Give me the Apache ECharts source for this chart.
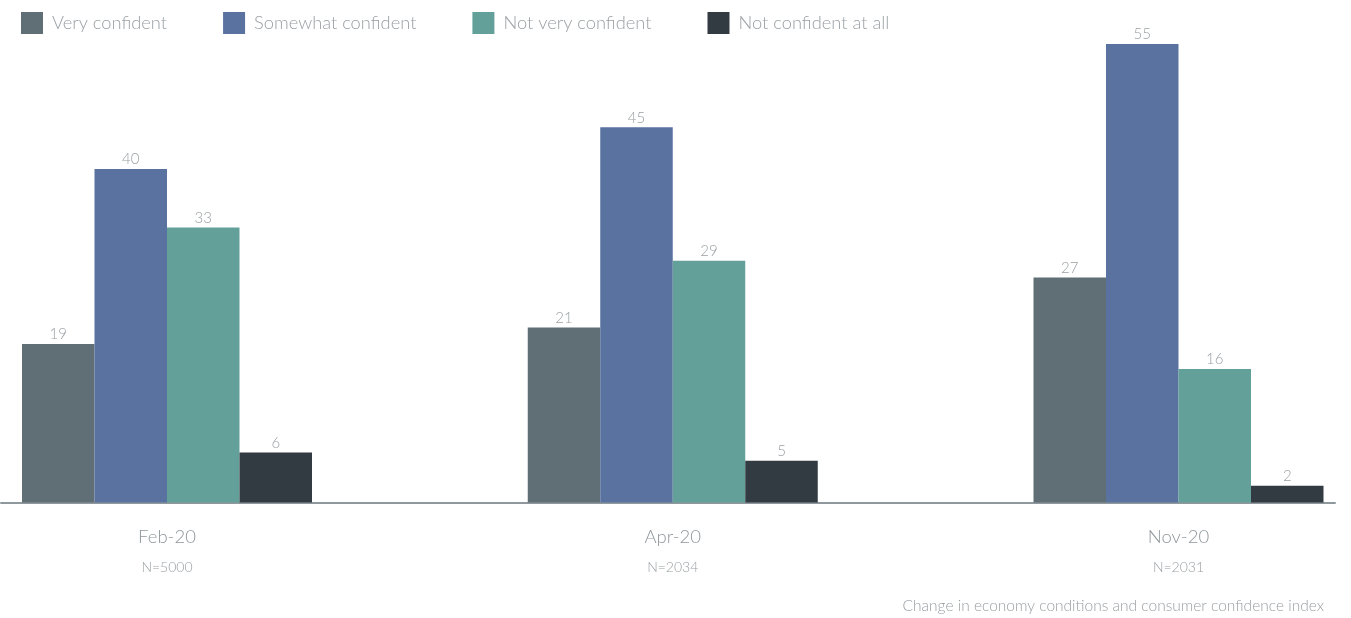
<!DOCTYPE html>
<html lang="en">
<head>
    <meta charset="utf-8">
    <title>Consumer confidence</title>
    <script src="https://cdn.jsdelivr.net/npm/echarts@6/dist/echarts.min.js"></script>
    <style>
        html, body { margin: 0; padding: 0; background: #fff; }
        #chart { width: 1351px; height: 618px; }
    </style>
</head>
<body>
    <div id="chart"></div>
    <script type="text/javascript">
        let periods = ['Feb-20', 'Apr-20', 'Nov-20'];
        let sampleSizes = ['N=5000', 'N=2034', 'N=2031'];
        let veryConfident = [19, 21, 27];
        let somewhatConfident = [40, 45, 55];
        let notVeryConfident = [33, 29, 16];
        let notConfidentAtAll = [6, 5, 2];

        let seriesNames = ['Very confident', 'Somewhat confident', 'Not very confident', 'Not confident at all'];
        let seriesColors = ['#606e75', '#5a729f', '#64a09a', '#333b42'];
        let seriesValues = [veryConfident, somewhatConfident, notVeryConfident, notConfidentAtAll];

        let labelGray = '#9aa0a4';
        let fontName = 'Lato, "Noto Sans", sans-serif';

        let Chart = echarts.init(document.getElementById('chart'));

        let series = seriesNames.map((name, i) => ({
            name: name,
            type: 'bar',
            xAxisIndex: 0,
            yAxisIndex: 0,
            barWidth: 72.5,
            barGap: '0%',
            clip: false,
            itemStyle: { color: seriesColors[i] },
            label: {
                show: true,
                position: 'top',
                distance: 2,
                color: labelGray,
                fontSize: 15,
                fontWeight: 300,
                fontFamily: fontName
            },
            data: seriesValues[i]
        }));

        let option = {
            animation: false,
            textStyle: { fontFamily: fontName },
            legend: {
                left: 16,
                top: 7,
                itemWidth: 22,
                itemHeight: 22,
                itemGap: 56,
                icon: 'rect',
                textStyle: {
                    color: labelGray,
                    fontSize: 18.3,
                    fontWeight: 300,
                    fontFamily: fontName,
                    padding: [0, 0, 0, 4]
                },
                data: seriesNames
            },
            title: {
                text: 'Change in economy conditions and consumer confidence index',
                right: 22,
                bottom: -1,
                textStyle: {
                    color: labelGray,
                    fontSize: 15.5,
                    fontWeight: 300,
                    fontFamily: fontName
                }
            },
            grid: [
                { left: 167, right: 172.5, top: 44, bottom: 115.5 },
                { left: 1, right: 16, top: 44, bottom: 115.5 }
            ],
            xAxis: [
                {
                    type: 'category',
                    gridIndex: 0,
                    boundaryGap: false,
                    data: periods,
                    axisLine: { show: false },
                    axisTick: { show: false },
                    axisLabel: {
                        margin: 20,
                        formatter: (v, idx) => '{a|' + v + '}\n{b|' + sampleSizes[idx] + '}',
                        rich: {
                            a: { color: '#8f979b', fontSize: 18.5, fontWeight: 300, fontFamily: fontName, lineHeight: 30 },
                            b: { color: labelGray, fontSize: 14, fontWeight: 300, fontFamily: fontName, lineHeight: 30 }
                        }
                    }
                },
                {
                    type: 'value',
                    gridIndex: 1,
                    min: 0,
                    max: 1,
                    axisLine: { show: true, lineStyle: { color: '#8e989d', width: 2 } },
                    axisTick: { show: false },
                    axisLabel: { show: false },
                    splitLine: { show: false }
                }
            ],
            yAxis: [
                {
                    type: 'value',
                    gridIndex: 0,
                    min: 0,
                    max: 55,
                    show: false
                },
                {
                    type: 'value',
                    gridIndex: 1,
                    min: 0,
                    max: 1,
                    show: false
                }
            ],
            series: series
        };

        Chart.setOption(option);
    </script>
</body>
</html>
